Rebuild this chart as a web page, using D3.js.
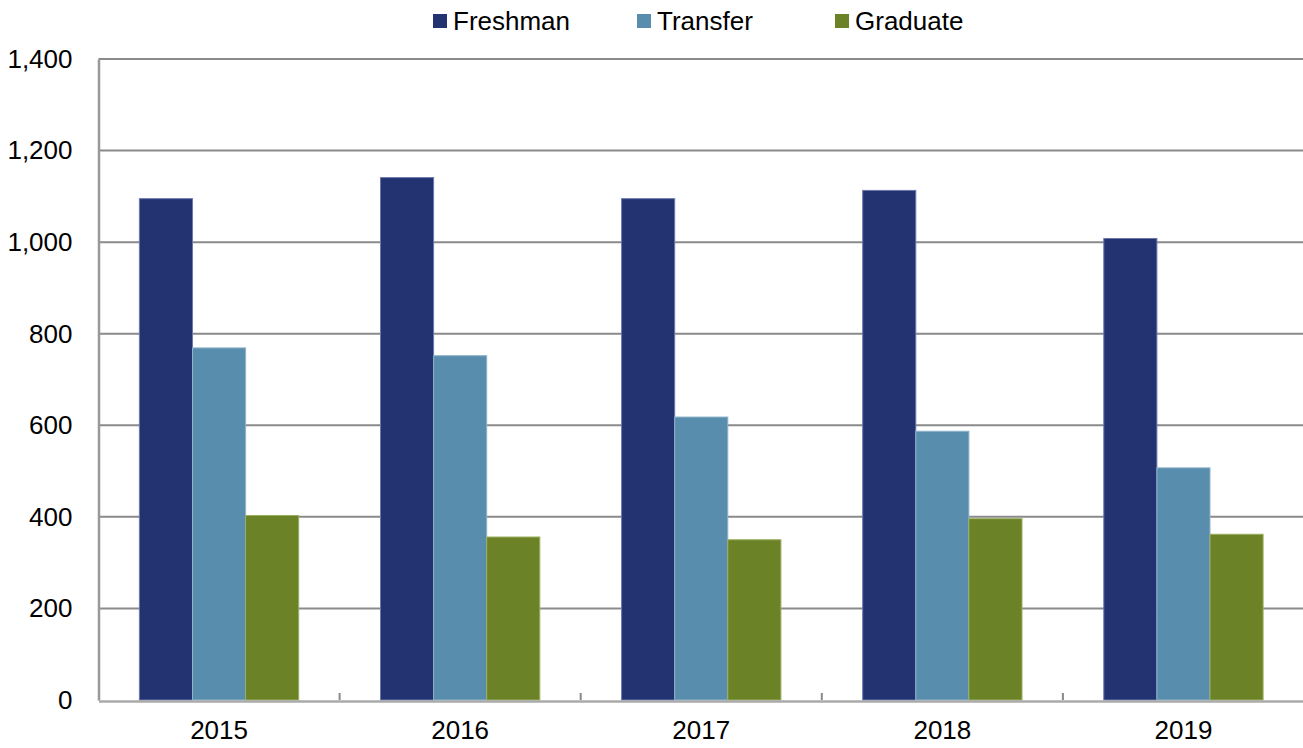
<!DOCTYPE html>
<html>
<head>
<meta charset="utf-8">
<script src="https://cdn.jsdelivr.net/npm/d3@7"></script>
<style>
  body { margin: 0; background: #fff; }
  text { font-family: "Liberation Sans", Arial, sans-serif; fill: #000; }
</style>
</head>
<body>
<svg id="chart" width="1303" height="748"></svg>
<script>
// data
var years = ["2015", "2016", "2017", "2018", "2019"];
var series = ["Freshman", "Transfer", "Graduate"];
var freshman = [1095, 1141, 1095, 1113, 1008];
var transfer = [769, 752, 618, 587, 507];
var graduate = [403, 356, 350, 396, 362];
var yTicks = [0, 200, 400, 600, 800, 1000, 1200, 1400];
var colors = ["#233372", "#588dae", "#6b8226"];
var strokes = ["#6c78ad", "#8fb3c9", "#9bb060"];

var values = [freshman, transfer, graduate];
var svg = d3.select("#chart");

var plotLeft = 98.5, plotRight = 1304, plotTop = 59, plotBottom = 700;

var x = d3.scaleBand().domain(years).range([plotLeft, plotRight]).paddingInner(0).paddingOuter(0);
var x1 = d3.scaleBand().domain(series).range([0, x.bandwidth()]).paddingInner(0).paddingOuter(0.77);
var y = d3.scaleLinear().domain([0, 1400]).range([plotBottom, plotTop]);

// gridlines
svg.append("g")
    .selectAll("line")
    .data(yTicks.filter(function(d){ return d > 0; }))
    .join("line")
    .attr("x1", plotLeft)
    .attr("x2", plotRight)
    .attr("y1", function(d){ return y(d); })
    .attr("y2", function(d){ return y(d); })
    .attr("stroke", "#8a8a8a")
    .attr("stroke-width", 2);

// bars
var groups = svg.append("g")
    .selectAll("g")
    .data(years)
    .join("g")
    .attr("transform", function(d){ return "translate(" + x(d) + ",0)"; });

groups.selectAll("rect")
    .data(function(d, i){
        return series.map(function(s, j){ return {s: s, j: j, v: values[j][i]}; });
    })
    .join("rect")
    .attr("x", function(d){ return x1(d.s); })
    .attr("width", x1.bandwidth())
    .attr("y", function(d){ return y(d.v); })
    .attr("height", function(d){ return plotBottom - y(d.v); })
    .attr("fill", function(d){ return colors[d.j]; })
    .attr("stroke", function(d){ return strokes[d.j]; })
    .attr("stroke-width", 1);

// y axis
var yAxis = d3.axisLeft(y)
    .tickValues(yTicks)
    .tickSize(0)
    .tickPadding(26)
    .tickFormat(d3.format(","));

var gy = svg.append("g")
    .attr("transform", "translate(" + plotLeft + ",0)")
    .call(yAxis);
gy.select(".domain").attr("stroke", "#999").attr("stroke-width", 2.5);
gy.selectAll(".tick text")
    .style("font-size", "26px")
    .attr("fill", "#000");

// x axis
var xAxis = d3.axisBottom(x).tickSize(0).tickPadding(20);
var gx = svg.append("g")
    .attr("transform", "translate(0," + (plotBottom + 1) + ")")
    .call(xAxis);
gx.select(".domain").attr("stroke", "#aaa").attr("stroke-width", 2.5);
gx.selectAll(".tick text")
    .style("font-size", "26px")
    .attr("fill", "#000");

// little ticks between categories
svg.append("g")
    .selectAll("line")
    .data(years.slice(1))
    .join("line")
    .attr("x1", function(d){ return x(d); })
    .attr("x2", function(d){ return x(d); })
    .attr("y1", plotBottom)
    .attr("y2", plotBottom - 7)
    .attr("stroke", "#888")
    .attr("stroke-width", 2);

// legend
var legendX = [433, 637, 835];
var legend = svg.append("g")
    .selectAll("g")
    .data(series)
    .join("g")
    .attr("transform", function(d, i){ return "translate(" + legendX[i] + ",14)"; });

legend.append("rect")
    .attr("width", 14)
    .attr("height", 14)
    .attr("fill", function(d, i){ return colors[i]; });

legend.append("text")
    .attr("x", 20)
    .attr("y", 16)
    .style("font-size", "26px")
    .text(function(d){ return d; });
</script>
</body>
</html>
